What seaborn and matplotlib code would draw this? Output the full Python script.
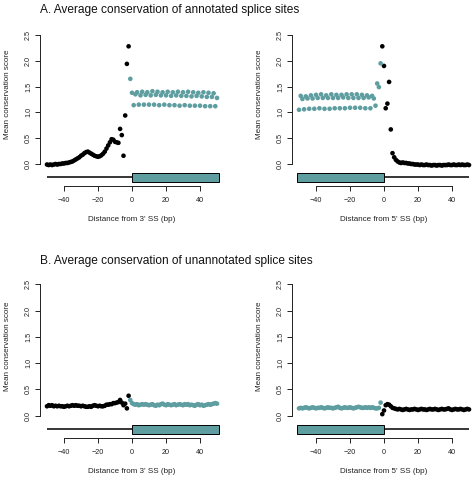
import matplotlib
matplotlib.use("Agg")
import matplotlib.pyplot as plt
import matplotlib.patches as mpatches
import seaborn as sns
import pandas as pd

# ---------------- data ----------------
# Panel A, 3' splice site
a3_intron_x = list(range(-50, -1))
a3_intron_y = [-0.01, -0.02, -0.01, -0.02, -0.01, 0.00, -0.01, 0.00, 0.00, 0.01,
               0.01, 0.02, 0.02, 0.03, 0.04, 0.05, 0.07, 0.09, 0.11, 0.13,
               0.16, 0.18, 0.21, 0.23, 0.24, 0.22, 0.20, 0.18, 0.16, 0.15,
               0.14, 0.15, 0.17, 0.20, 0.24, 0.30, 0.36, 0.42, 0.48, 0.47,
               0.43, 0.42, 0.41, 0.68, 0.56, 0.16, 0.94, 1.94, 2.28]
a3_exon_x = list(range(-1, 51))
a3_exon_y = [1.65,
             1.38, 1.14, 1.35, 1.39, 1.15, 1.33, 1.40, 1.15, 1.34,
             1.39, 1.15, 1.33, 1.41, 1.15, 1.34, 1.40, 1.14, 1.33,
             1.39, 1.15, 1.33, 1.40, 1.14, 1.32, 1.39, 1.14, 1.33,
             1.40, 1.13, 1.32, 1.39, 1.14, 1.32, 1.40, 1.13, 1.31,
             1.39, 1.13, 1.32, 1.38, 1.13, 1.31, 1.39, 1.12, 1.30,
             1.38, 1.12, 1.30, 1.37, 1.12, 1.28]

# Panel A, 5' splice site
a5_exon_x = list(range(-50, -1))
a5_exon_y = [1.05, 1.32, 1.26, 1.06, 1.31, 1.27, 1.07, 1.33, 1.27,
             1.07, 1.34, 1.28, 1.08, 1.35, 1.28, 1.07, 1.33, 1.28,
             1.07, 1.35, 1.28, 1.08, 1.34, 1.28, 1.08, 1.34, 1.29,
             1.08, 1.35, 1.28, 1.09, 1.35, 1.28, 1.09, 1.35, 1.28,
             1.09, 1.34, 1.28, 1.08, 1.33, 1.29, 1.08, 1.32, 1.27,
             1.13, 1.56, 1.49, 1.95]
a5_intron_x = list(range(-1, 51))
a5_intron_y = [2.28, 1.90, 1.08, 1.17, 1.59, 0.67, 0.21, 0.13, 0.08, 0.05,
               0.03, 0.02, 0.03, 0.02, 0.02, 0.01, 0.01, 0.00, 0.00, -0.01,
               -0.01, -0.01, -0.02, -0.01, -0.02, -0.02, -0.01, -0.02, -0.02, -0.03,
               -0.02, -0.02, -0.03, -0.02, -0.02, -0.03, -0.02, -0.02, -0.02, -0.01,
               -0.02, -0.02, -0.01, -0.02, -0.02, -0.01, -0.02, -0.01, -0.02, -0.02,
               -0.01, -0.02]

# Panel B, 3' splice site
b3_intron_x = list(range(-50, -1))
b3_intron_y = [0.18, 0.20, 0.19, 0.20, 0.18, 0.19, 0.18, 0.19, 0.18, 0.18,
               0.17, 0.18, 0.19, 0.18, 0.19, 0.20, 0.19, 0.20, 0.19, 0.19,
               0.18, 0.19, 0.18, 0.17, 0.17, 0.18, 0.17, 0.19, 0.20, 0.19,
               0.18, 0.19, 0.18, 0.18, 0.19, 0.21, 0.21, 0.22, 0.22, 0.24,
               0.24, 0.25, 0.26, 0.30, 0.25, 0.20, 0.23, 0.14, 0.38]
b3_exon_x = list(range(-1, 51))
b3_exon_y = [0.30, 0.24, 0.22, 0.21, 0.22, 0.20, 0.21, 0.22, 0.21, 0.22, 0.21,
             0.20, 0.21, 0.22, 0.20, 0.19, 0.21, 0.20, 0.22, 0.23, 0.21,
             0.20, 0.22, 0.21, 0.20, 0.21, 0.22, 0.20, 0.21, 0.22, 0.21,
             0.20, 0.22, 0.21, 0.22, 0.20, 0.21, 0.20, 0.19, 0.21, 0.22,
             0.20, 0.21, 0.19, 0.20, 0.21, 0.22, 0.21, 0.22, 0.23, 0.24, 0.23]

# Panel B, 5' splice site
b5_exon_x = list(range(-50, -1))
b5_exon_y = [0.14, 0.15, 0.14, 0.15, 0.16, 0.15, 0.14, 0.15, 0.16, 0.15,
             0.14, 0.15, 0.15, 0.16, 0.15, 0.14, 0.15, 0.16, 0.15, 0.15,
             0.14, 0.15, 0.16, 0.17, 0.15, 0.14, 0.15, 0.16, 0.15, 0.15,
             0.16, 0.15, 0.14, 0.15, 0.16, 0.17, 0.16, 0.15, 0.15, 0.16,
             0.15, 0.16, 0.15, 0.16, 0.15, 0.14, 0.14, 0.15, 0.25]
b5_intron_x = list(range(-1, 51))
b5_intron_y = [0.03, 0.10, 0.20, 0.22, 0.21, 0.18, 0.15, 0.14, 0.13, 0.12, 0.13,
               0.12, 0.11, 0.12, 0.13, 0.12, 0.11, 0.12, 0.12, 0.13, 0.12,
               0.11, 0.12, 0.13, 0.12, 0.12, 0.11, 0.12, 0.13, 0.12, 0.12,
               0.13, 0.12, 0.11, 0.12, 0.13, 0.12, 0.12, 0.13, 0.14, 0.12,
               0.11, 0.12, 0.13, 0.12, 0.12, 0.13, 0.12, 0.11, 0.12, 0.13, 0.12]

titles = ["A. Average conservation of annotated splice sites",
          "B. Average conservation of unannotated splice sites"]
xlabels = ["Distance from 3' SS (bp)", "Distance from 5' SS (bp)"]
ylabel = "Mean conservation score"
yticks = [0.0, 0.5, 1.0, 1.5, 2.0, 2.5]
ytick_labels = ["0.0", "0.5", "1.0", "1.5", "2.0", "2.5"]
xticks = [-40, -20, 0, 20, 40]
xtick_labels = ["\u221240", "\u221220", "0", "20", "40"]

# gene structure schematic: (intron span, exon span)
gene_3ss = {"intron": (-50, 0), "exon": (0, 51)}
gene_5ss = {"intron": (0, 50), "exon": (-51, 0)}

TEAL = "#5F9EA0"

# ---------------- style ----------------
sns.set_style("ticks")
plt.rcParams["font.family"] = ["Liberation Sans", "DejaVu Sans"]

W, H = 477, 480
fig = plt.figure(figsize=(W / 100, H / 100), dpi=100)

YLIM = (-0.43, 2.6)
XLIM = (-54, 54)


def make_df(ix, iy, ex, ey):
    return pd.DataFrame({
        "pos": list(ix) + list(ex),
        "score": list(iy) + list(ey),
        "region": ["intron"] * len(ix) + ["exon"] * len(ex),
    })


panels = [
    # (left px, top px, right px, bottom px, df, gene, xlabel)
    (40.2, 29.8, 223.8, 186.2, make_df(a3_intron_x, a3_intron_y, a3_exon_x, a3_exon_y), gene_3ss, xlabels[0]),
    (292.2, 29.8, 475.8, 186.2, make_df(a5_intron_x, a5_intron_y, a5_exon_x, a5_exon_y), gene_5ss, xlabels[1]),
    (40.2, 279.2, 223.8, 438.3, make_df(b3_intron_x, b3_intron_y, b3_exon_x, b3_exon_y), gene_3ss, xlabels[0]),
    (292.2, 279.2, 475.8, 438.3, make_df(b5_intron_x, b5_intron_y, b5_exon_x, b5_exon_y), gene_5ss, xlabels[1]),
]

for (l, t, r, b, df, gene, xl) in panels:
    ax = fig.add_axes([l / W, 1 - b / H, (r - l) / W, (b - t) / H])
    ax.set_facecolor("white")
    sns.scatterplot(data=df, x="pos", y="score", hue="region",
                    palette={"intron": "black", "exon": TEAL},
                    s=11, linewidth=0, legend=False, ax=ax, zorder=3)
    # gene structure
    gy = -0.26
    ax.plot(gene["intron"], [gy, gy], color="black", lw=1.1, solid_capstyle="butt", zorder=2)
    e0, e1 = gene["exon"]
    ax.add_patch(mpatches.Rectangle((e0, gy - 0.08), e1 - e0, 0.16,
                                    facecolor=TEAL, edgecolor="black", lw=0.7, zorder=2))
    ax.set_xlim(*XLIM)
    ax.set_ylim(*YLIM)
    for sp in ["top", "right"]:
        ax.spines[sp].set_visible(False)
    ax.spines["left"].set_bounds(0, 2.5)
    ax.spines["bottom"].set_bounds(-40, 40)
    for sp in ["left", "bottom"]:
        ax.spines[sp].set_linewidth(0.7)
        ax.spines[sp].set_color("#222222")
    ax.set_yticks(yticks)
    ax.set_yticklabels(ytick_labels, rotation=90, va="center")
    ax.set_xticks(xticks)
    ax.set_xticklabels(xtick_labels)
    ax.tick_params(axis="both", length=3.6, width=0.7, color="#222222",
                   labelsize=5.2, labelcolor="#222222")
    ax.tick_params(axis="x", pad=4.0)
    ax.tick_params(axis="y", pad=2.3)
    ax.set_xlabel(xl, fontsize=5.8, color="#222222", va="center")
    ax.set_ylabel(ylabel, fontsize=5.8, color="#222222", va="center")
    hpx = b - t
    wpx = r - l
    ax.xaxis.set_label_coords(0.5, -(33.0 / hpx))
    ax.yaxis.set_label_coords(-(33.0 / wpx), 92.0 / hpx)

fig.text(40 / W, 1 - 10 / H, titles[0], fontsize=8.6, ha="left", va="center", color="#111111")
fig.text(40.5 / W, 1 - 261 / H, titles[1], fontsize=8.6, ha="left", va="center", color="#111111")

fig.savefig("out.png", dpi=100, facecolor="white")
